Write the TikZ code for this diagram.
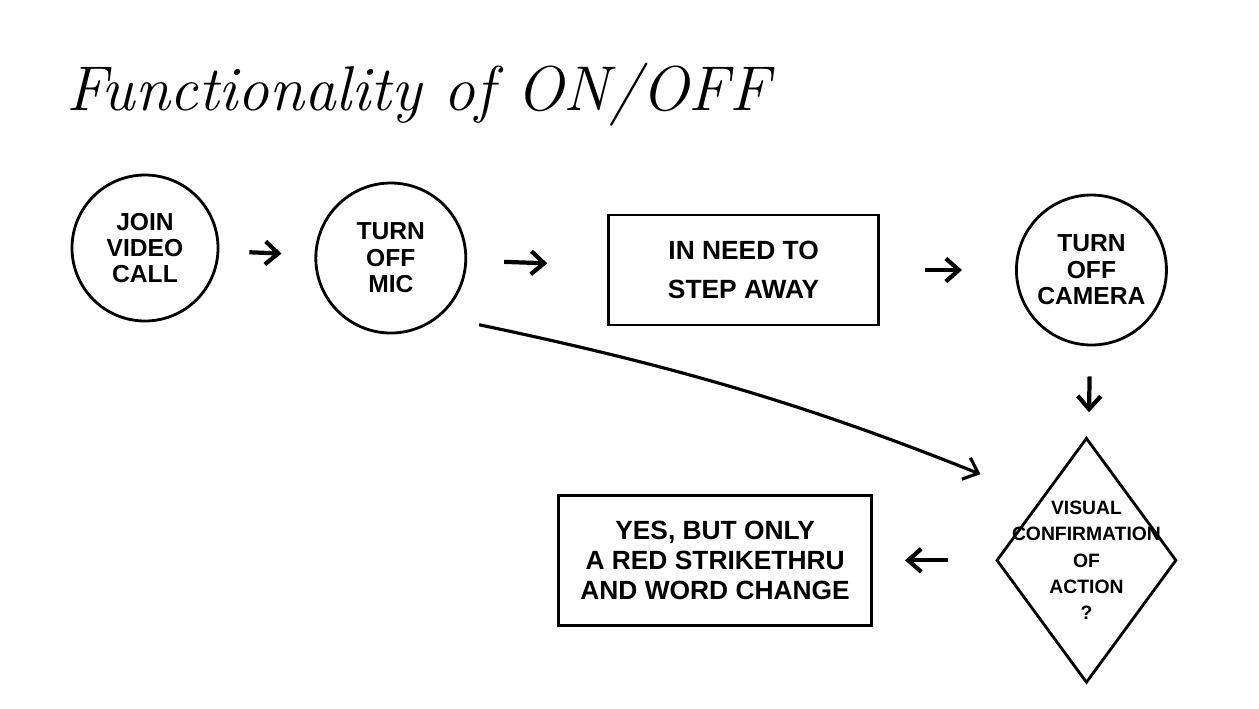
\documentclass[tikz,border=0pt]{standalone}
\usepackage{fontspec}
\usepackage{tikz}
\usetikzlibrary{arrows.meta,positioning,shapes.geometric}
\newfontfamily\handfont{Liberation Sans}

\begin{document}
\begin{tikzpicture}[
  ink/.style={line width=1.6pt},
  stage/.style={draw,ink,circle,align=center,minimum size=30mm,inner sep=0pt,
                font=\handfont\bfseries\fontsize{14}{15}\selectfont},
  note/.style={draw,ink,align=center,inner sep=0pt,
               font=\handfont\bfseries\fontsize{15}{17}\selectfont},
  query/.style={draw,ink,diamond,minimum width=36mm,minimum height=49mm,inner sep=0pt},
  arr/.style={-{Straight Barb[length=2.6mm,width=4.6mm]},line width=2.4pt},
  curv/.style={-{Straight Barb[length=2.6mm,width=4.6mm]},line width=1.8pt}]
\fill[white] (0,0) rectangle (25.18,-14.16);
\useasboundingbox (0,0) rectangle (25.18,-14.16);
\node[anchor=west,font=\fontsize{36}{42}\selectfont\itshape] (title) at (1.2,-1.9)
  {Functionality of ON/OFF};
\node[stage,minimum size=29.2mm] (join) at (2.9,-4.96) {JOIN\\VIDEO\\CALL};
\node[stage,right=19mm of join,yshift=-2mm] (mic) {TURN\\OFF\\MIC};
\node[note,right=28mm of mic,yshift=-2.4mm,minimum width=54mm,minimum height=22mm,
      font=\handfont\bfseries\fontsize{15}{22}\selectfont] (away) {IN NEED TO\\STEP AWAY};
\node[stage,right=27mm of away] (camera) {TURN\\OFF\\CAMERA};
\node[query,below=18mm of camera,xshift=-1mm] (check) {};
\node[align=center,font=\handfont\bfseries\fontsize{11}{15}\selectfont] (checktext)
  at (check) {VISUAL\\CONFIRMATION\\OF\\ACTION\\?};
\node[note,left=24.4mm of check,minimum width=62.6mm,minimum height=26mm] (answer)
  {YES, BUT ONLY\\A RED STRIKETHRU\\AND WORD CHANGE};
% short hand-drawn arrows between steps
\draw[arr,shorten <=6mm,shorten >=6.6mm] (join) -- (mic);
\draw[arr,shorten <=7.4mm,shorten >=12mm] (mic) -- (away);
\draw[arr,shorten <=9mm,shorten >=10.6mm] (away) -- (camera);
\draw[arr,shorten <=6mm,shorten >=5.4mm] (camera) -- (check);
\draw[arr,shorten <=9.4mm,shorten >=6.4mm] (check) -- (answer);
\draw[curv,shorten <=8mm,shorten >=13mm] (mic.-50) to[bend left=5] (check.north west);
\end{tikzpicture}
\end{document}
